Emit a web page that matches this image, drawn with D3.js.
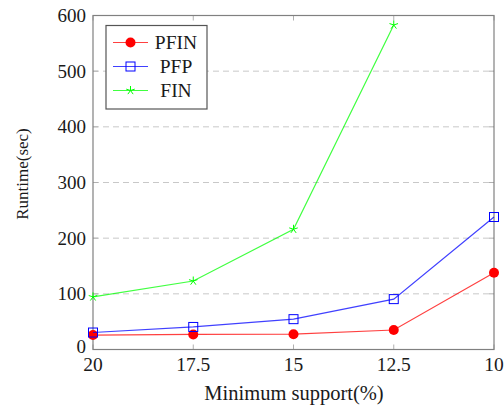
<!DOCTYPE html>
<html>
<head>
<meta charset="utf-8">
<script src="https://cdn.jsdelivr.net/npm/d3@7"></script>
<style>
  body { margin: 0; background: #fff; }
  text { font-family: "Liberation Serif", "DejaVu Serif", serif; fill: #1a1a1a; }
</style>
</head>
<body>
<div id="chart"></div>
<script>
var supports = [20, 17.5, 15, 12.5, 10];
var yTicks = [0, 100, 200, 300, 400, 500, 600];
var pfin = [26, 27, 27.5, 35, 138];
var pfp = [30.5, 40.5, 54.5, 90.5, 238];
var fin = [94.5, 123, 216, 583];

var series = [
  { name: "PFIN", color: "#ff0000", values: pfin, marker: "dot" },
  { name: "PFP", color: "#0000ff", values: pfp, marker: "square" },
  { name: "FIN", color: "#00ff00", values: fin, marker: "star" }
];

var width = 504, height = 408;
var margin = { left: 93, right: 10, top: 15.5, bottom: 58.5 };

var svg = d3.select("#chart")
            .append("svg")
            .attr("width", width)
            .attr("height", height);

var x = d3.scalePoint()
          .domain(supports)
          .range([margin.left, width - margin.right]);

var y = d3.scaleLinear()
          .domain([0, 600])
          .range([height - margin.bottom, margin.top]);

// horizontal dashed grid
svg.append("g")
   .selectAll("line")
   .data(yTicks.filter(function(d) { return d > 0 && d < 600; }))
   .enter()
   .append("line")
   .attr("x1", margin.left)
   .attr("x2", width - margin.right)
   .attr("y1", function(d) { return y(d); })
   .attr("y2", function(d) { return y(d); })
   .attr("stroke", "#c8c8c8")
   .attr("stroke-width", 1)
   .attr("stroke-dasharray", "6,4");

// tick marks (inside, both sides)
var tickLen = 5;
var ticks = svg.append("g").attr("stroke", "#b0b0b0").attr("stroke-width", 1);
supports.forEach(function(s) {
  ticks.append("line").attr("x1", x(s)).attr("x2", x(s))
       .attr("y1", y(0)).attr("y2", y(0) - tickLen);
  ticks.append("line").attr("x1", x(s)).attr("x2", x(s))
       .attr("y1", y(600)).attr("y2", y(600) + tickLen);
});
yTicks.forEach(function(t) {
  ticks.append("line").attr("x1", margin.left).attr("x2", margin.left + tickLen)
       .attr("y1", y(t)).attr("y2", y(t));
  ticks.append("line").attr("x1", width - margin.right).attr("x2", width - margin.right - tickLen)
       .attr("y1", y(t)).attr("y2", y(t));
});

// frame
svg.append("rect")
   .attr("x", margin.left)
   .attr("y", margin.top)
   .attr("width", width - margin.right - margin.left)
   .attr("height", y(0) - y(600))
   .attr("fill", "none")
   .attr("stroke", "#808080")
   .attr("stroke-width", 1.2);

// tick labels
svg.append("g")
   .selectAll("text")
   .data(yTicks)
   .enter()
   .append("text")
   .attr("x", margin.left - 7)
   .attr("y", function(d) { return d === 0 ? y(d) - 3 : y(d); })
   .attr("dy", "0.35em")
   .attr("text-anchor", "end")
   .style("font-size", "19px")
   .text(function(d) { return d; });

svg.append("g")
   .selectAll("text")
   .data(supports)
   .enter()
   .append("text")
   .attr("x", function(d) { return x(d); })
   .attr("y", y(0) + 21)
   .attr("text-anchor", "middle")
   .style("font-size", "19.5px")
   .text(function(d) { return d; });

// axis labels
svg.append("text")
   .attr("x", 294)
   .attr("y", 400)
   .attr("text-anchor", "middle")
   .style("font-size", "20.5px")
   .text("Minimum support(%)");

svg.append("text")
   .attr("transform", "translate(28,174)rotate(-90)")
   .attr("text-anchor", "middle")
   .style("font-size", "17px")
   .text("Runtime(sec)");

function drawMarker(g, type, color, cx, cy) {
  if (type === "dot") {
    g.append("circle").attr("cx", cx).attr("cy", cy).attr("r", 5)
     .attr("fill", color);
  } else if (type === "square") {
    g.append("rect").attr("x", cx - 4.5).attr("y", cy - 4.5)
     .attr("width", 9).attr("height", 9)
     .attr("fill", "none").attr("stroke", color).attr("stroke-width", 1);
  } else {
    var r = 4.5;
    for (var k = 0; k < 5; k++) {
      var a = -Math.PI / 2 + k * 2 * Math.PI / 5;
      g.append("line").attr("x1", cx).attr("y1", cy)
       .attr("x2", cx + r * Math.cos(a)).attr("y2", cy + r * Math.sin(a))
       .attr("stroke", color).attr("stroke-width", 1);
    }
  }
}

var line = d3.line()
             .x(function(d, i) { return x(supports[i]); })
             .y(function(d) { return y(d); });

series.forEach(function(s) {
  var g = svg.append("g");
  g.append("path")
   .attr("d", line(s.values))
   .attr("fill", "none")
   .attr("stroke", s.color)
   .attr("stroke-opacity", 0.75)
   .attr("stroke-width", 1.2);
  s.values.forEach(function(v, i) {
    drawMarker(g, s.marker, s.color, x(supports[i]), y(v));
  });
});

// legend
var legend = svg.append("g");
legend.append("rect")
      .attr("x", 106).attr("y", 25.5)
      .attr("width", 101).attr("height", 83.5)
      .attr("fill", "#fff")
      .attr("stroke", "#555")
      .attr("stroke-width", 1.2);

series.forEach(function(s, i) {
  var ly = 42.5 + i * 24;
  legend.append("line")
        .attr("x1", 113).attr("x2", 148)
        .attr("y1", ly).attr("y2", ly)
        .attr("stroke", s.color)
        .attr("stroke-opacity", 0.75)
        .attr("stroke-width", 1.2);
  drawMarker(legend, s.marker, s.color, 130.5, ly);
  legend.append("text")
        .attr("x", 176).attr("y", ly)
        .attr("dy", "0.35em")
        .attr("text-anchor", "middle")
        .style("font-size", "19.5px")
        .text(s.name);
});
</script>
</body>
</html>
